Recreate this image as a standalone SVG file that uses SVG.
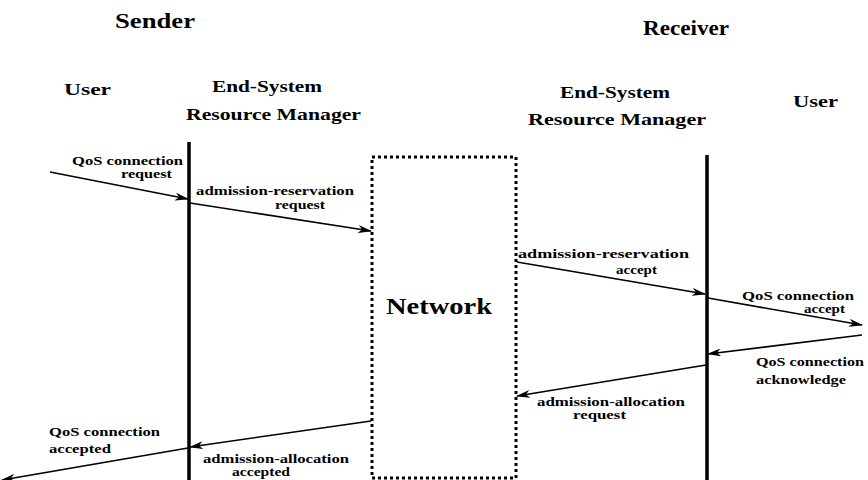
<svg xmlns="http://www.w3.org/2000/svg" width="868" height="480" viewBox="0 0 868 480">
  <defs>
    <marker id="head" viewBox="0 0 14 8" refX="13" refY="4" markerWidth="14" markerHeight="8" markerUnits="userSpaceOnUse" orient="auto">
      <path d="M0,0 L14,4 L0,8 L4,4 z" fill="#000"/>
    </marker>
    <style>
      .title { font-size: 20px; }
      .role { font-size: 17px; }
      .lbl { font-size: 12px; }
      .net { font-size: 23px; }
      .life { stroke: #000; stroke-width: 3.5; }
      .msg { stroke: #000; stroke-width: 1.6; fill: none; marker-end: url(#head); }
    </style>
  </defs>
  <rect width="868" height="480" fill="#fff"/>

  <g font-family="Liberation Serif" font-weight="700" fill="#000">
  <!-- side headings -->
  <text class="title" x="115" y="28" textLength="80" lengthAdjust="spacingAndGlyphs">Sender</text>
  <text class="title" x="643" y="35" textLength="86" lengthAdjust="spacingAndGlyphs">Receiver</text>

  <!-- sender side -->
  <g id="sender-user">
    <text class="role" x="64" y="95" textLength="47" lengthAdjust="spacingAndGlyphs">User</text>
  </g>
  <g id="sender-rm">
    <text class="role" x="212" y="92" textLength="110" lengthAdjust="spacingAndGlyphs">End-System</text>
    <text class="role" x="186" y="120" textLength="175" lengthAdjust="spacingAndGlyphs">Resource Manager</text>
    <line class="life" x1="189" y1="142" x2="189" y2="480"/>
  </g>

  <!-- network -->
  <g id="network">
    <rect x="372" y="157" width="144" height="321" fill="none" stroke="#000" stroke-width="3" stroke-dasharray="3 3"/>
    <text class="net" x="386" y="314" textLength="106" lengthAdjust="spacingAndGlyphs">Network</text>
  </g>

  <!-- receiver side -->
  <g id="receiver-rm">
    <text class="role" x="560" y="98" textLength="110" lengthAdjust="spacingAndGlyphs">End-System</text>
    <text class="role" x="528" y="125" textLength="178" lengthAdjust="spacingAndGlyphs">Resource Manager</text>
    <line class="life" x1="707" y1="155" x2="707" y2="480"/>
  </g>
  <g id="receiver-user">
    <text class="role" x="793" y="107" textLength="45" lengthAdjust="spacingAndGlyphs">User</text>
  </g>

  <!-- messages -->
  <g id="connectors">
    <line class="msg" x1="50" y1="172" x2="188" y2="199"/>
    <line class="msg" x1="190" y1="203" x2="371" y2="231"/>
    <line class="msg" x1="517" y1="262" x2="705" y2="294"/>
    <line class="msg" x1="708" y1="298" x2="862" y2="325"/>
    <line class="msg" x1="862" y1="335" x2="708" y2="354"/>
    <line class="msg" x1="706" y1="365" x2="517" y2="396"/>
    <line class="msg" x1="371" y1="421" x2="190" y2="447"/>
    <line class="msg" x1="188" y1="448" x2="2" y2="480"/>
  </g>

  <!-- message labels -->
  <g id="labels">
    <text class="lbl" x="72" y="165" textLength="111" lengthAdjust="spacingAndGlyphs">QoS connection</text>
    <text class="lbl" x="121" y="178" textLength="51" lengthAdjust="spacingAndGlyphs">request</text>

    <text class="lbl" x="196" y="195" textLength="158" lengthAdjust="spacingAndGlyphs">admission-reservation</text>
    <text class="lbl" x="275" y="209" textLength="50" lengthAdjust="spacingAndGlyphs">request</text>

    <text class="lbl" x="518" y="258" textLength="171" lengthAdjust="spacingAndGlyphs">admission-reservation</text>
    <text class="lbl" x="616" y="274" textLength="41" lengthAdjust="spacingAndGlyphs">accept</text>

    <text class="lbl" x="742" y="300" textLength="112" lengthAdjust="spacingAndGlyphs">QoS connection</text>
    <text class="lbl" x="804" y="313" textLength="41" lengthAdjust="spacingAndGlyphs">accept</text>

    <text class="lbl" x="756" y="366" textLength="108" lengthAdjust="spacingAndGlyphs">QoS connection</text>
    <text class="lbl" x="756" y="384" textLength="90" lengthAdjust="spacingAndGlyphs">acknowledge</text>

    <text class="lbl" x="537" y="406" textLength="148" lengthAdjust="spacingAndGlyphs">admission-allocation</text>
    <text class="lbl" x="573" y="419" textLength="53" lengthAdjust="spacingAndGlyphs">request</text>

    <text class="lbl" x="49" y="436" textLength="111" lengthAdjust="spacingAndGlyphs">QoS connection</text>
    <text class="lbl" x="49" y="453" textLength="62" lengthAdjust="spacingAndGlyphs">accepted</text>

    <text class="lbl" x="203" y="463" textLength="146" lengthAdjust="spacingAndGlyphs">admission-allocation</text>
    <text class="lbl" x="232" y="476" textLength="58" lengthAdjust="spacingAndGlyphs">accepted</text>
  </g>
  </g>
</svg>
